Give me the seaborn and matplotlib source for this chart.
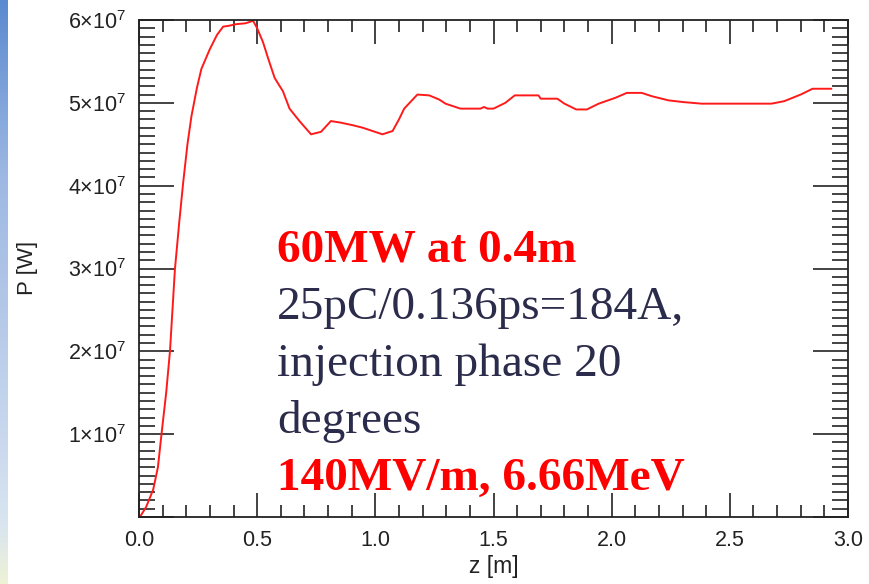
import numpy as np
import pandas as pd
import matplotlib
matplotlib.use("Agg")
import matplotlib.pyplot as plt
import seaborn as sns
from matplotlib.ticker import MultipleLocator, FixedLocator
from matplotlib.colors import LinearSegmentedColormap

# ---- data ----
z_m = [0.004, 0.03, 0.06, 0.08, 0.096, 0.115, 0.131, 0.152, 0.17, 0.187, 0.205,
       0.222, 0.245, 0.264, 0.30, 0.33, 0.356, 0.38, 0.412, 0.45, 0.483, 0.50,
       0.525, 0.546, 0.574, 0.609, 0.637, 0.679, 0.728, 0.77, 0.812, 0.855,
       0.904, 0.946, 0.988, 1.03, 1.073, 1.10, 1.122, 1.178, 1.228, 1.27, 1.297,
       1.36, 1.445, 1.46, 1.475, 1.50, 1.55, 1.59, 1.69, 1.70, 1.77, 1.80, 1.85,
       1.895, 1.945, 2.015, 2.064, 2.127, 2.17, 2.24, 2.30, 2.38, 2.676, 2.73,
       2.80, 2.85, 2.93]
power_W = [0.0e7, 0.12e7, 0.33e7, 0.60e7, 1.02e7, 1.50e7, 2.00e7, 2.99e7, 3.55e7,
           4.04e7, 4.50e7, 4.84e7, 5.18e7, 5.41e7, 5.65e7, 5.82e7, 5.92e7, 5.93e7,
           5.95e7, 5.96e7, 5.99e7, 5.90e7, 5.73e7, 5.54e7, 5.30e7, 5.14e7, 4.93e7,
           4.78e7, 4.62e7, 4.65e7, 4.78e7, 4.76e7, 4.73e7, 4.70e7, 4.66e7, 4.62e7,
           4.66e7, 4.80e7, 4.93e7, 5.10e7, 5.09e7, 5.04e7, 4.99e7, 4.93e7, 4.93e7,
           4.95e7, 4.93e7, 4.93e7, 5.00e7, 5.09e7, 5.09e7, 5.05e7, 5.05e7, 4.99e7,
           4.92e7, 4.92e7, 4.99e7, 5.06e7, 5.12e7, 5.12e7, 5.08e7, 5.03e7, 5.01e7,
           4.99e7, 4.99e7, 5.02e7, 5.10e7, 5.17e7, 5.17e7]

x_ticks = [0.0, 0.5, 1.0, 1.5, 2.0, 2.5, 3.0]
x_tick_labels = ["0.0", "0.5", "1.0", "1.5", "2.0", "2.5", "3.0"]
y_ticks = [0, 1e7, 2e7, 3e7, 4e7, 5e7, 6e7]
y_tick_labels = ["", r"$1{\times}10^7$", r"$2{\times}10^7$", r"$3{\times}10^7$",
                 r"$4{\times}10^7$", r"$5{\times}10^7$", r"$6{\times}10^7$"]

annotation_lines = ["60MW at 0.4m", "25pC/0.136ps=184A,", "injection phase 20",
                    "degrees", "140MV/m, 6.66MeV"]
annotation_bold = [True, False, False, False, True]

df = pd.DataFrame({"z": z_m, "P": power_W})

# ---- style ----
sns.set_style("white")
plt.rcParams["font.family"] = ["Liberation Sans", "DejaVu Sans"]
plt.rcParams["mathtext.fontset"] = "custom"
plt.rcParams["mathtext.rm"] = "Liberation Sans"
plt.rcParams["mathtext.it"] = "Liberation Sans:italic"
plt.rcParams["mathtext.bf"] = "Liberation Sans:bold"

W, H = 869, 584
fig = plt.figure(figsize=(W / 100, H / 100), dpi=100)
fig.patch.set_facecolor("white")

# slide background strip on the left
strip = fig.add_axes([0, 0, 8 / W, 1])
cmap = LinearSegmentedColormap.from_list(
    "strip", [(0, "#5b8ad0"), (0.3, "#9db8e2"), (0.75, "#c9d8ee"),
              (0.9, "#d9e5f0"), (1.0, "#eef2d6")])
strip.imshow(np.linspace(0, 1, 256).reshape(-1, 1), aspect="auto", cmap=cmap)
strip.set_axis_off()

left, right, top, bottom = 139, 848, 20, 517
ax = fig.add_axes([left / W, 1 - bottom / H, (right - left) / W, (bottom - top) / H])

sns.lineplot(data=df, x="z", y="P", ax=ax, color="#ff1a1a", linewidth=1.4,
             legend=False)

ax.set_xlim(0, 3.0)
ax.set_ylim(0, 6e7)
ax.set_xlabel("")
ax.set_ylabel("")

ax.xaxis.set_major_locator(FixedLocator(x_ticks))
ax.set_xticklabels(x_tick_labels)
ax.xaxis.set_minor_locator(MultipleLocator(0.1))
ax.yaxis.set_major_locator(FixedLocator(y_ticks))
ax.set_yticklabels(y_tick_labels)
ax.yaxis.set_minor_locator(MultipleLocator(1e6))

tick_color = "#222222"
ax.tick_params(axis="both", which="both", direction="in", top=True, right=True,
               left=True, bottom=True,
               color=tick_color, width=1.2, labelcolor="#222222", labelsize=15.5)
ax.tick_params(axis="x", which="major", length=17.5, pad=9)
ax.tick_params(axis="x", which="minor", length=8.5)
ax.tick_params(axis="y", which="major", length=25, pad=9)
ax.tick_params(axis="y", which="minor", length=11.5)
for s in ax.spines.values():
    s.set_visible(True)
    s.set_color(tick_color)
    s.set_linewidth(1.3)

fig.text(28 / W, 1 - 268 / H, "P [W]", rotation=90, ha="center", va="center",
         fontsize=16, color="#222222")
fig.text(494 / W, 1 - 567 / H, "z [m]", ha="center", va="center",
         fontsize=16.5, color="#222222")

baselines = [262, 319, 376, 433, 490]
for txt, bold, yb in zip(annotation_lines, annotation_bold, baselines):
    fig.text(277 / W, 1 - yb / H, txt, ha="left", va="baseline",
             fontsize=34, family=["Liberation Serif", "DejaVu Serif"],
             fontweight="bold" if bold else "normal",
             color="#ff0000" if bold else "#2b2b4b")

fig.savefig("out.png", dpi=100)
